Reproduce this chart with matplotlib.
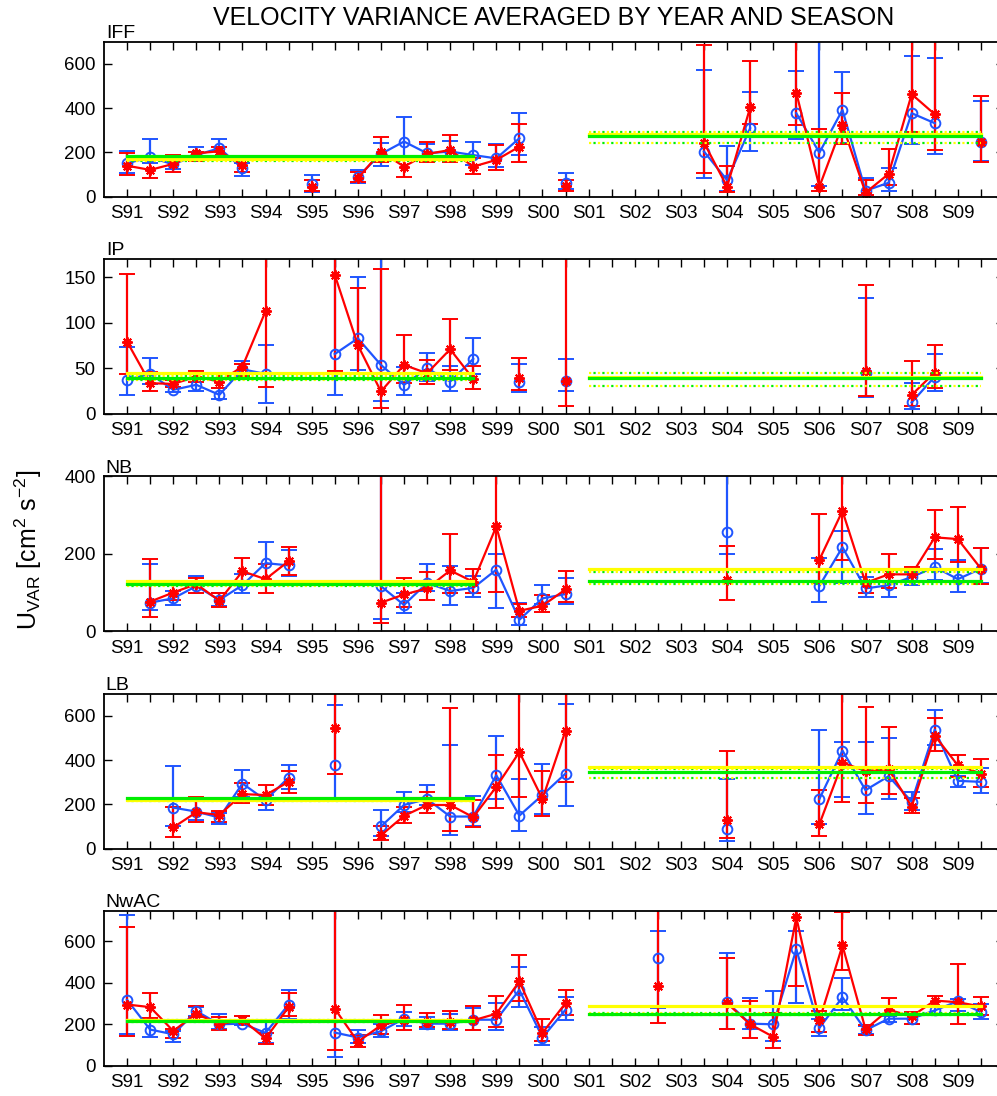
import numpy as np
import matplotlib
matplotlib.use("Agg")
import matplotlib.pyplot as plt

plt.rcParams['font.family'] = ['Liberation Sans', 'DejaVu Sans']
plt.rcParams['mathtext.fontset'] = 'custom'
plt.rcParams['mathtext.rm'] = 'Liberation Sans'
plt.rcParams['mathtext.it'] = 'Liberation Sans:italic'

# --- season axis: two seasons per year, 1991..2009 ---
years = ['91', '92', '93', '94', '95', '96', '97', '98', '99',
         '00', '01', '02', '03', '04', '05', '06', '07', '08', '09']
N_SEASONS = 2 * len(years)

# --- IFF ---
iff_idx = [1, 2, 3, 4, 5, 6, 9, 11, 12, 13, 14, 15, 16, 17, 18, 20,
           26, 27, 28, 30, 31, 32, 33, 34, 35, 36, 38]
iff_b = [151, 178, 146, 188, 219, 128, 56, 90, 193, 249, 196, 204, 188, 173, 264, 63,
         204, 75, 309, 377, 199, 392, 27, 63, 377, 332, 249]
iff_b_lo = [105, 150, 125, 160, 181, 93, 23, 63, 139, 181, 160, 165, 143, 135, 188, 33,
            86, 27, 208, 259, 50, 241, 8, 27, 238, 193, 160]
iff_b_hi = [208, 259, 175, 226, 259, 150, 98, 121, 241, 359, 240, 250, 249, 238, 380, 109,
            570, 231, 473, 569, 900, 561, 83, 128, 636, 626, 434]
iff_r = [140, 121, 148, 196, 205, 143, 45, 83, 204, 136, 193, 211, 136, 166, 226, 48,
         244, 45, 403, 470, 45, 324, 18, 103, 463, 372, 249]
iff_r_lo = [98, 83, 113, 160, 169, 110, 27, 68, 158, 90, 155, 158, 103, 121, 158, 27,
            106, 23, 330, 323, 27, 238, 8, 53, 290, 211, 155]
iff_r_hi = [199, 181, 188, 203, 226, 185, 75, 113, 268, 185, 249, 279, 175, 234, 329, 75,
            686, 140, 614, 900, 306, 470, 75, 216, 900, 900, 457]

# --- IP ---
ip_idx = [1, 2, 3, 4, 5, 6, 7, 10, 11, 12, 13, 14, 15, 16, 18, 20, 33, 35, 36]
ip_b = [37.5, 44, 26.5, 32, 21, 49, 44, 65.8, 83, 53.8, 32, 50, 35.6, 60.4, 35.6, 36, 44.7, 12.7, 41]
ip_b_lo = [20.4, 33, 24, 25, 16, 41, 12, 20.4, 48.4, 13.8, 21, 36.7, 24.7, 44, 23.6, 25, 18.5, 5.5, 24.7]
ip_b_hi = [73.8, 61, 30, 39, 28, 58.5, 76, 250, 150, 250, 52, 67, 52.7, 83, 55, 60, 127, 33.8, 65.8]
ip_r = [79.3, 33.8, 33, 41, 35.6, 52, 112.7, 152.7, 75.6, 24.7, 53.8, 44.7, 71, 38.5, 39.3, 36, 47.6, 21, 45.5]
ip_r_lo = [44, 24.7, 30, 35.6, 28, 42, 29.5, 47.3, 44.7, 6.5, 34.5, 33, 48.4, 27.3, 26.5, 9, 20, 9, 28]
ip_r_hi = [153.8, 46.5, 37.5, 47, 44, 55, 250, 250, 138, 159, 87, 59, 104.7, 52.7, 61, 250, 142, 58, 75.6]

# --- NB ---
nb_idx = [2, 3, 4, 5, 6, 7, 8, 12, 13, 14, 15, 16, 17, 18, 19, 20,
          27, 31, 32, 33, 34, 35, 36, 37, 38]
nb_b = [74, 85, 116.6, 81, 119, 176, 170, 116.6, 68, 125, 104, 112, 159, 29.8, 85, 96,
        255, 117.4, 217, 110.6, 119, 140, 166, 134.5, 161.7]
nb_b_lo = [55, 68, 99.6, 65.5, 98, 121.7, 143, 32, 46.8, 105, 68, 89, 59.6, 17, 70, 70,
           200, 75, 125, 87.7, 89, 119, 132, 102, 125]
nb_b_hi = [173, 104, 142, 98, 147, 230, 211, 600, 100, 174.5, 168.5, 142, 200, 72, 119, 138.7,
           600, 189, 260, 140, 161.7, 153, 212.8, 183, 215]
nb_r = [76.6, 100, 121.7, 79, 155, 134.5, 181, 74, 95, 110.6, 157, 127.6, 270.6, 52.8, 66, 108,
        132, 184.7, 310.6, 125, 147, 147, 242.5, 238, 161.7]
nb_r_lo = [36.6, 81, 99.6, 63.8, 121.7, 100, 144.7, 21, 63.8, 81, 100, 100, 102, 38, 49, 75.7,
           81, 125, 183, 99.6, 110.6, 127.6, 187, 180, 121.7]
nb_r_hi = [187, 125, 138.7, 99.6, 189, 173, 218.7, 600, 138.7, 153, 251, 161.7, 600, 70.6, 93.6, 155.7,
           221, 302, 600, 161.7, 200, 166, 312, 321.7, 215]

# --- LB ---
lb_idx = [3, 4, 5, 6, 7, 8, 10, 12, 13, 14, 15, 16, 17, 18, 19, 20,
          27, 31, 32, 33, 34, 35, 36, 37, 38]
lb_b = [185, 167, 140, 294, 219, 321, 376, 100, 197, 224, 144.8, 144.8, 331, 149, 242, 338.8,
        89.5, 224, 443, 264, 326.8, 212, 537, 306, 301.5]
lb_b_lo = [100, 130, 110, 234, 174.6, 268.6, 230, 58, 165, 195, 59.7, 100, 224, 80.6, 155, 192.5,
           33, 110, 234, 156.7, 224, 174.6, 465.7, 276, 249]
lb_b_hi = [373, 219, 160, 353.7, 240, 379, 647.7, 174.6, 256.7, 286.6, 465.7, 237, 510, 316, 380.6, 655,
           316, 537, 480, 480.6, 498.5, 256.7, 627, 330, 365.7]
lb_r = [95.5, 164, 152, 246, 242, 301.5, 545, 59.7, 147.8, 197, 197, 141.8, 279, 436, 224, 533,
        127, 110.4, 388, 350.7, 358, 189.6, 510, 376, 338.8]
lb_r_lo = [50.7, 119, 122, 204.5, 197, 249, 336, 37, 115, 159.7, 80.6, 95.5, 185, 234, 147.8, 301.5,
           47.8, 55, 209, 207.5, 246, 159.7, 438.8, 324, 279]
lb_r_hi = [189.6, 234, 171.6, 298.5, 286.6, 349, 900, 103, 189.6, 256.7, 634, 219, 424, 900, 349, 900,
           443, 264, 900, 640, 547.7, 226.9, 588, 424, 406]

# --- NwAC ---
nwac_idx = [1, 2, 3, 4, 5, 6, 7, 8, 10, 11, 12, 13, 14, 15, 16, 17, 18, 19, 20,
            24, 27, 28, 29, 30, 31, 32, 33, 34, 35, 36, 37, 38]
nwac_b = [317, 174.6, 152, 263.4, 200, 203, 158.7, 295, 160, 136.5, 166.6, 227, 203, 203, 222, 222, 365, 136.5, 270,
          520.5, 306, 203, 200, 560, 182.5, 330, 171.4, 227, 227, 266.6, 311, 258.7]
nwac_b_lo = [155.5, 139.7, 116, 240, 179, 195, 110, 227, 44, 110, 139.7, 190, 179, 171.4, 171.4, 171.4, 282.5, 100, 219,
             279, 179, 179, 119, 303, 144, 266.6, 152, 210, 203, 246, 265, 227]
nwac_b_hi = [727, 220, 170, 282.5, 250.7, 238, 211, 365, 1000, 174.6, 203, 260, 235, 250.7, 280, 301.5, 476, 187, 333,
             650, 541, 327, 361.8, 650, 227, 422, 190, 240, 250, 282.5, 320, 298]
nwac_r = [295, 282.5, 168, 250.7, 200, 222, 131.7, 282.5, 274.6, 116, 195, 222, 211, 211, 219, 250.7, 406, 158.7, 301.5,
          385.6, 301.5, 200, 139.7, 714, 219, 579, 176, 270, 238, 314, 306, 285.7]
nwac_r_lo = [144, 230, 131.7, 235, 174.6, 200, 104.7, 240, 76, 92, 155.5, 174.6, 187, 179, 171.4, 187, 314, 119, 246,
             208, 176, 131.7, 87, 385.6, 163.5, 462, 147.6, 243, 200, 290, 200, 243]
nwac_r_hi = [666.5, 350.7, 179, 285.7, 235, 239.6, 160, 349, 1000, 147.6, 242.8, 290.4, 255.5, 263.4, 287, 338, 531.6, 227, 366.6,
             1000, 520.5, 314, 254, 1000, 263, 742, 195, 327, 258.7, 338, 488.8, 333]

# period means: (yellow, green, dotted upper, dotted lower) for 1991-98 and 2001-09
iff_mean = [(169, 184, 175, 163), (282, 274, 294, 241)]
ip_mean = [(45.5, 39.3, 42, 37), (41, 39.3, 44.7, 31)]
nb_mean = [(130, 121, 127, 118), (160, 130, 153, 121.7)]
lb_mean = [(219, 229.8, 226, 215), (368.6, 346, 360, 319)]
nwac_mean = [(219, 216, 222, 212), (287, 250.7, 255, 243)]
mean_spans = [(1, 16), (21, 38)]

panels = [
    ("IFF", iff_idx, iff_b, iff_b_lo, iff_b_hi, iff_r, iff_r_lo, iff_r_hi, iff_mean, 700, [0, 200, 400, 600]),
    ("IP", ip_idx, ip_b, ip_b_lo, ip_b_hi, ip_r, ip_r_lo, ip_r_hi, ip_mean, 170, [0, 50, 100, 150]),
    ("NB", nb_idx, nb_b, nb_b_lo, nb_b_hi, nb_r, nb_r_lo, nb_r_hi, nb_mean, 400, [0, 200, 400]),
    ("LB", lb_idx, lb_b, lb_b_lo, lb_b_hi, lb_r, lb_r_lo, lb_r_hi, lb_mean, 700, [0, 200, 400, 600]),
    ("NwAC", nwac_idx, nwac_b, nwac_b_lo, nwac_b_hi, nwac_r, nwac_r_lo, nwac_r_hi, nwac_mean, 745, [0, 200, 400, 600]),
]

BLUE = '#1f55ff'
RED = '#ff0000'
YELLOW = '#ffff00'
GREEN = '#00ee00'


def full(idx, vals):
    out = np.full(N_SEASONS, np.nan)
    out[np.array(idx) - 1] = vals
    return out


W, H = 997, 1096
fig = plt.figure(figsize=(W / 100, H / 100), dpi=100)
x = np.arange(1, N_SEASONS + 1)
xlabels = []
for y in years:
    xlabels += ['S' + y, '']

for k, (name, idx, b, blo, bhi, r, rlo, rhi, means, ytop, yt) in enumerate(panels):
    bot_px = 196.7 + k * 217.3
    ax = fig.add_axes([104 / W, 1 - bot_px / H, 900 / W, 155 / H])

    for vals, lo, hi, col, mk in [(b, blo, bhi, BLUE, 'o'), (r, rlo, rhi, RED, (8, 2, 0))]:
        v = full(idx, vals)
        err = [v - full(idx, lo), full(idx, hi) - v]
        ax.errorbar(x, v, yerr=err, color=col, ecolor=col, lw=1.6, elinewidth=1.6,
                    capsize=5.5, capthick=1.6, marker=mk, ms=7 if mk == 'o' else 7.5,
                    mfc='none' if mk == 'o' else col, mec=col, mew=1.4)

    for (x0, x1), (yel, grn, d_up, d_lo) in zip(mean_spans, means):
        for d in (d_up, d_lo):
            ax.plot([x0, x1], [d, d], color=YELLOW, lw=1.6, ls=(0, (1, 3)), zorder=3)
            ax.plot([x0, x1], [d, d], color=GREEN, lw=1.6, ls=(2, (1, 3)), zorder=3)
        ax.plot([x0, x1], [yel, yel], color=YELLOW, lw=2.3, zorder=4)
        ax.plot([x0, x1], [grn, grn], color=GREEN, lw=2.3, zorder=4)

    ax.set_xlim(0, 39)
    ax.set_ylim(0, ytop)
    ax.set_xticks(x)
    ax.set_xticklabels(xlabels)
    ax.set_yticks(yt)
    ax.tick_params(direction='in', top=True, right=True, length=6, width=1,
                   labelsize=13.5, pad=6)
    for s in ax.spines.values():
        s.set_linewidth(1.3)
    ax.text(0.002, 1.024, name, transform=ax.transAxes, fontsize=14,
            ha='left', va='baseline')

fig.text(554 / W, 1 - 18 / H, 'VELOCITY VARIANCE AVERAGED BY YEAR AND SEASON',
         fontsize=18, ha='center', va='center')
fig.text(28 / W, 1 - 550 / H, r'$\mathregular{U_{VAR}\ [cm^2\ s^{-2}]}$',
         fontsize=18, rotation=90, ha='center', va='center')

fig.savefig('out.png', dpi=100)
